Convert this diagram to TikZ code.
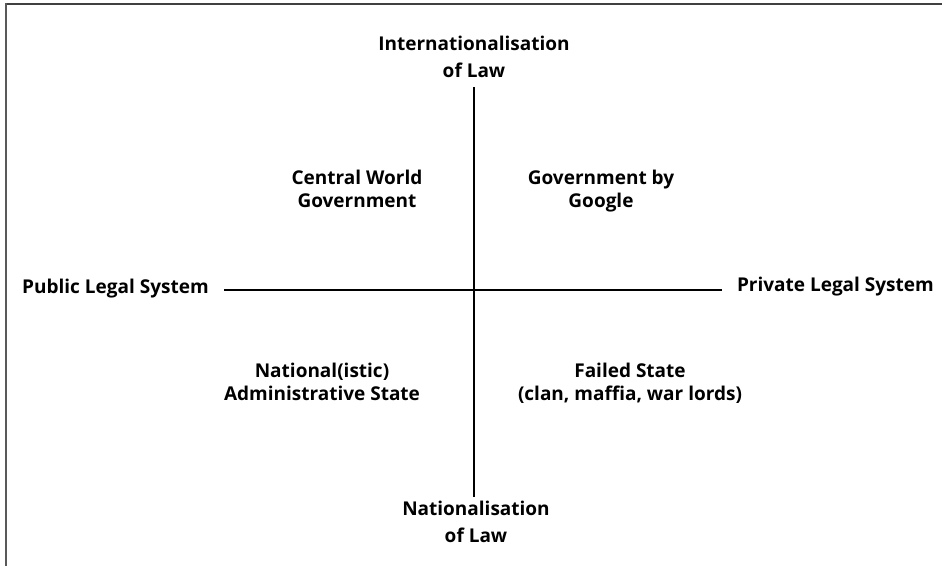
\documentclass[tikz,border=0pt]{standalone}
\usepackage{fontspec}
\setmainfont{Open Sans}
\begin{document}
\begin{tikzpicture}[x=1pt,y=-1pt,
  lbl/.style={font=\fontsize{19}{23}\selectfont\bfseries, align=center, inner sep=0pt},
  axislbl/.style={lbl, font=\fontsize{19}{27}\selectfont\bfseries},
  axis/.style={line width=2.2pt, black},
  frame/.style={line width=2.2pt}]
\useasboundingbox (0,0) rectangle (942,566);
% partial frame along the top and left edges
\draw[frame, black!75] (6,4) -- (942,4);
\draw[frame, black!65] (6,3) -- (6,566);
% axis end points
\coordinate (top) at (474,87);
\coordinate (bottom) at (474,497);
\coordinate (left) at (224,290);
\coordinate (right) at (722,290);
\draw[axis] (top) -- (bottom);
\draw[axis] (left) -- (right);
% axis labels
\node[axislbl] (intl) at (474,57) {Internationalisation\\of Law};
\node[axislbl] (natl) at (476,522) {Nationalisation\\of Law};
\node[lbl, anchor=west] (pub) at (22,289) {Public Legal System};
\node[lbl, anchor=east] (priv) at (934,287) {Private Legal System};
% quadrant labels
\node[lbl] (cwg) at (357,189) {Central World\\Government};
\node[lbl] (gbg) at (601,191) {Government by\\Google};
\node[lbl] (nas) at (322,382) {National(istic)\\Administrative State};
\node[lbl] (fs) at (630,383) {Failed State\\(clan, maffia, war lords)};
\end{tikzpicture}
\end{document}
